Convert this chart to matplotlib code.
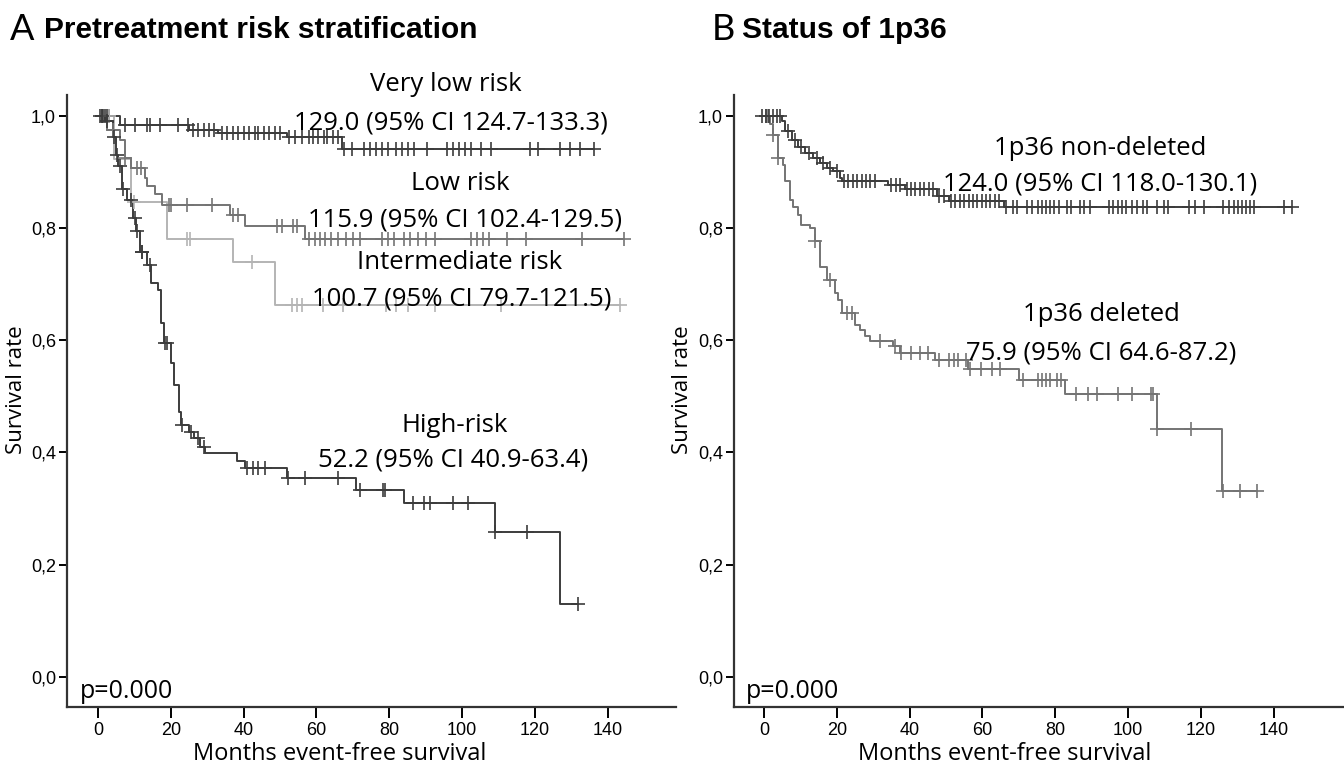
import numpy as np
import matplotlib
matplotlib.use("Agg")
import matplotlib.pyplot as plt

plt.rcParams['font.family'] = ['Open Sans', 'DejaVu Sans']

# ---- panel A: pretreatment risk groups (event time, survival after event) ----
vlow_t = [0, 6, 25, 33, 52, 67]
vlow_s = [1.0, 0.984, 0.975, 0.969, 0.963, 0.941]
vlow_cens = [0.5, 1, 1.5, 2, 2.5, 3, 7.4, 10.2, 13.4, 14.3, 17, 22.1, 24.8,
             26, 27.5, 29, 30.5, 32, 34, 35.5, 37, 38.5, 40, 41.5, 43, 44, 45.5,
             47, 48.5, 50, 52.5, 54, 56, 58, 59, 60.5, 62, 63, 64.5, 66,
             67.7, 69.9, 73.2, 74.8, 76.4, 78, 79.7, 81.9, 83.5, 85.1, 86.7,
             90.5, 96, 97.6, 99.2, 100.9, 102.5, 105.2, 107.9, 118.8, 120.9,
             126.9, 129.6, 132.3, 136.2]

low_t = [0, 2.4, 6, 7.4, 9.2, 12.9, 13.4, 15.7, 17.5, 36.3, 40.4, 56.9]
low_s = [1.0, 0.975, 0.957, 0.925, 0.907, 0.889, 0.874, 0.86, 0.841, 0.824, 0.803, 0.78]
low_cens = [4, 7.5, 10.6, 11.8, 19.4, 20.1, 24.4, 31.3, 37.2, 38.5, 49.3, 50.5,
            53.6, 54.7, 58, 59.5, 61, 62.5, 64, 66, 68, 70, 72, 78.1, 79.7,
            81.3, 84, 85.7, 87.8, 90, 92.7, 102.5, 104.1, 105.7, 107.4, 112.3,
            117.7, 132.9, 144.5]

inter_t = [0, 4.5, 9.2, 18.9, 37.1, 48.7]
inter_s = [1.0, 0.923, 0.847, 0.781, 0.74, 0.663]
inter_cens = [3, 10, 24.4, 25.3, 42.2, 53.2, 54.6, 56, 61.8, 67.2, 79.1, 81.9,
              85.1, 92.7, 110.6, 143.5]

high_t = [0, 2, 4, 5, 5.5, 6.5, 8, 9.5, 10.5, 11.5, 13.5, 14.5, 16.5, 17.3,
          18.2, 20, 21, 22.2, 22.8, 25, 26.5, 28, 29.5, 38.3, 40.5, 52, 71,
          84, 109, 127]
high_s = [1.0, 0.99, 0.963, 0.93, 0.91, 0.87, 0.85, 0.818, 0.794, 0.758, 0.734,
          0.702, 0.69, 0.63, 0.595, 0.56, 0.52, 0.473, 0.449, 0.437, 0.425,
          0.41, 0.399, 0.385, 0.373, 0.355, 0.334, 0.31, 0.258, 0.13]
high_cens = [1, 2.5, 4.3, 5.2, 6, 7, 9.2, 10.1, 10.6, 12, 12.2, 14.3, 18.3, 19,
             23, 25.5, 27.5, 29, 41, 42.5, 44, 46, 52.3, 57, 66, 72, 78.4, 78.8,
             86.5, 89.5, 91.2, 97.5, 101.6, 109.2, 118, 132]

# ---- panel B: 1p36 status ----
nondel_t = [0, 4.9, 5.8, 7.6, 9.4, 11.3, 13.5, 15.4, 17.2, 19, 20.9, 21.3,
            34.2, 38.7, 47.5, 50.9, 65.8]
nondel_s = [1.0, 0.99, 0.972, 0.957, 0.945, 0.933, 0.925, 0.916, 0.907, 0.901,
            0.889, 0.883, 0.877, 0.869, 0.857, 0.848, 0.838]
nondel_cens = [-0.5, 0.5, 1.5, 2.5, 3.5, 4.4, 6.5, 8.5, 10.3, 12.5, 14.5, 16.2,
               18, 20, 22, 23.2, 24.4, 25.6, 26.8, 28, 29.2, 30.5, 35, 36.2,
               37.4, 39.2, 40.4, 41.6, 42.8, 44, 45.2, 46.4, 48, 49.5, 51.5,
               52.6, 53.8, 55, 56.2, 57.4, 58.6, 59.8, 61, 62.2, 63.4, 64.6,
               66.5, 68.3, 69.4, 72.3, 73.5, 75.2, 76.4, 77.5, 78.7, 79.8, 81,
               83.3, 84.4, 86.8, 87.9, 89.6, 94.8, 96, 97.2, 98.3, 99.5, 101.2,
               102.4, 104.1, 105.3, 108.1, 109.9, 111, 116.8, 118.5, 120.9,
               126.1, 127.8, 129, 130.1, 131.3, 132.4, 133.6, 134.7, 142.8,
               145.1]

del_t = [0, 1.6, 2.6, 3.9, 5.3, 5.8, 7.1, 8, 9.4, 10.3, 12.6, 14, 15.4, 17.2,
         19.5, 20.4, 21.3, 25, 26.4, 27.7, 29.1, 35.5, 37.4, 46.9, 56.1, 70,
         82.7, 107.9, 125.8]
del_s = [1.0, 0.985, 0.966, 0.925, 0.913, 0.883, 0.85, 0.838, 0.824, 0.806,
         0.8, 0.776, 0.731, 0.708, 0.684, 0.672, 0.648, 0.627, 0.619, 0.607,
         0.598, 0.589, 0.577, 0.564, 0.548, 0.529, 0.504, 0.441, 0.332]
del_cens = [0.5, 1, 2.6, 3.9, 14, 18.2, 22.7, 24.1, 31.9, 36, 37.6, 40.5, 42.8,
            45.1, 48, 50.9, 52.1, 53.2, 55.5, 56.7, 59.6, 62.5, 64.8, 71.2,
            75.2, 76.4, 77.5, 78.7, 80.4, 81.6, 85.6, 89.1, 91.4, 97.2, 101.2,
            106.4, 107, 107.9, 117.2, 126.1, 130.7, 135.3]

DARK = '#3c3c3c'
MID = '#747474'
LIGHT = '#b4b4b4'
TICKFONT = ['Liberation Sans Narrow', 'DejaVu Sans Condensed', 'Liberation Sans']


def km(ax, t, s, cens, color):
    t = np.asarray(t, float)
    s = np.asarray(s, float)
    cens = np.asarray(cens, float)
    end = max(t[-1], cens.max())
    ax.step(np.append(t, end), np.append(s, s[-1]), where='post',
            color=color, lw=1.4, zorder=3)
    idx = np.clip(np.searchsorted(t, cens, side='right') - 1, 0, None)
    ax.plot(cens, s[idx], ls='none', marker='+', ms=10, mew=1.2,
            color=color, zorder=4)


def style(ax, xlim):
    ax.set_xlim(*xlim)
    ax.set_ylim(-0.0535, 1.037)
    for sp in ['top', 'right']:
        ax.spines[sp].set_visible(False)
    for sp in ['left', 'bottom']:
        ax.spines[sp].set_linewidth(1.6)
        ax.spines[sp].set_color('#333333')
    ax.set_xticks(range(0, 141, 20))
    ax.set_yticks([0, 0.2, 0.4, 0.6, 0.8, 1.0])
    ax.set_yticklabels(['0,0', '0,2', '0,4', '0,6', '0,8', '1,0'])
    ax.tick_params(axis='x', length=8, width=1.4, pad=3)
    ax.tick_params(axis='y', length=6, width=1.4, pad=2)
    for lab in ax.get_xticklabels() + ax.get_yticklabels():
        lab.set_family(TICKFONT)
        lab.set_fontsize(13)


fig = plt.figure(figsize=(13.44, 7.64), dpi=100)
axA = fig.add_axes([67 / 1344, 57 / 764, 609 / 1344, 612 / 764])
axB = fig.add_axes([734 / 1344, 57 / 764, 609 / 1344, 612 / 764])

km(axA, vlow_t, vlow_s, vlow_cens, DARK)
km(axA, inter_t, inter_s, inter_cens, LIGHT)
km(axA, low_t, low_s, low_cens, MID)
km(axA, high_t, high_s, high_cens, DARK)
style(axA, (-8.52, 158.8))

km(axB, del_t, del_s, del_cens, MID)
km(axB, nondel_t, nondel_s, nondel_cens, DARK)
style(axB, (-8.24, 159.06))

# group labels with median event-free survival
fs = 18.5
kw = dict(ha='center', va='center', fontsize=fs, color='black', clip_on=False, zorder=5)
axA.text(95.5, 1.056, 'Very low risk', **kw)
axA.text(97.0, 0.987, '129.0 (95% CI 124.7-133.3)', **kw)
axA.text(99.5, 0.879, 'Low risk', **kw)
axA.text(100.8, 0.814, '115.9 (95% CI 102.4-129.5)', **kw)
axA.text(99.2, 0.738, 'Intermediate risk', **kw)
axA.text(100.0, 0.673, '100.7 (95% CI 79.7-121.5)', **kw)
axA.text(98.1, 0.448, 'High-risk', **kw)
axA.text(97.5, 0.386, '52.2 (95% CI 40.9-63.4)', **kw)

axB.text(92.3, 0.942, '1p36 non-deleted', **kw)
axB.text(92.3, 0.879, '124.0 (95% CI 118.0-130.1)', **kw)
axB.text(92.8, 0.646, '1p36 deleted', **kw)
axB.text(92.6, 0.578, '75.9 (95% CI 64.6-87.2)', **kw)

for ax in (axA, axB):
    ax.text(-5.0, -0.025, 'p=0.000', ha='left', va='center', fontsize=18)

# axis labels
fig.text(17 / 1344, 1 - 390 / 764, 'Survival rate', rotation=90,
         ha='center', va='center', fontsize=16)
fig.text(683 / 1344, 1 - 390 / 764, 'Survival rate', rotation=90,
         ha='center', va='center', fontsize=16)
fig.text(340 / 1344, 1 - 760 / 764, 'Months event-free survival',
         ha='center', va='baseline', fontsize=17)
fig.text(1005 / 1344, 1 - 760 / 764, 'Months event-free survival',
         ha='center', va='baseline', fontsize=17)

# panel titles
fig.text(10 / 1344, 1 - 30 / 764, 'A', ha='left', va='center', fontsize=26,
         family=['Lato', 'DejaVu Sans'])
fig.text(44 / 1344, 1 - 30 / 764, 'Pretreatment risk stratification',
         ha='left', va='center', fontsize=21.5, weight='bold',
         family=['Liberation Sans', 'DejaVu Sans'])
fig.text(712 / 1344, 1 - 30 / 764, 'B', ha='left', va='center', fontsize=26,
         family=['Lato', 'DejaVu Sans'])
fig.text(742 / 1344, 1 - 30 / 764, 'Status of 1p36',
         ha='left', va='center', fontsize=21.5, weight='bold',
         family=['Liberation Sans', 'DejaVu Sans'])

fig.savefig('out.png', dpi=100, facecolor='white')
